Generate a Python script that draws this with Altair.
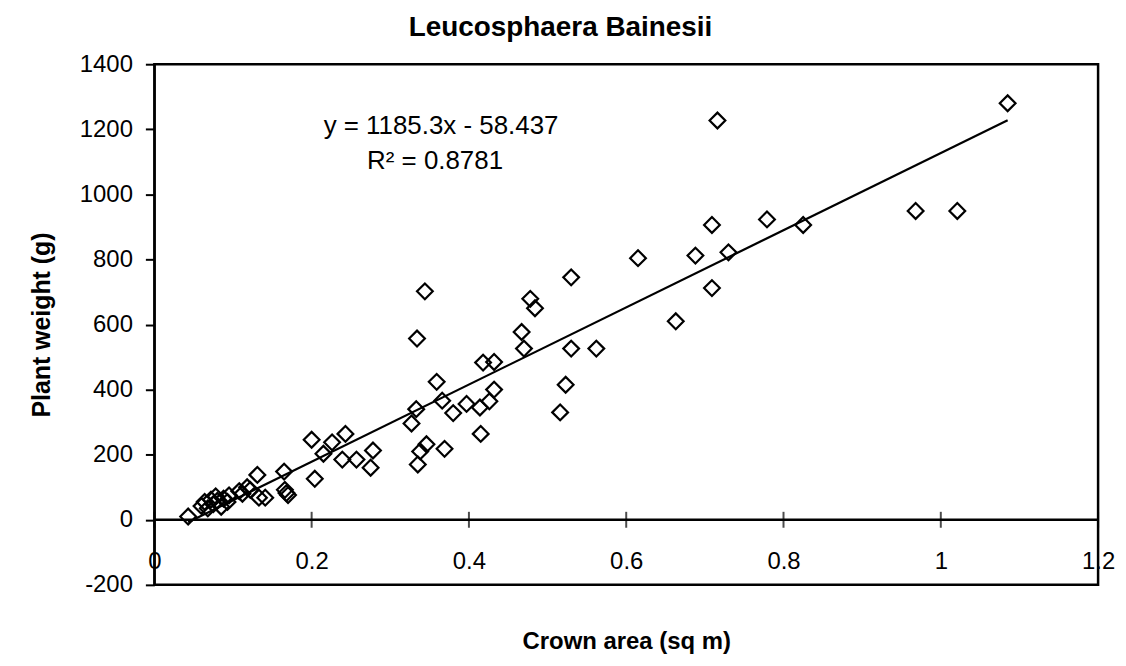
import altair as alt
import pandas as pd

# ---- data ----
crown_area = [
    0.043, 0.060, 0.064, 0.068, 0.072, 0.075, 0.078, 0.080, 0.085, 0.088,
    0.093, 0.095, 0.108, 0.112, 0.118, 0.122, 0.131, 0.133, 0.141, 0.165,
    0.166, 0.168, 0.170,
    0.200, 0.204, 0.215, 0.226, 0.239, 0.243, 0.257, 0.275, 0.278,
    0.327, 0.333, 0.335, 0.338, 0.346, 0.369,
    0.334, 0.344, 0.359, 0.366, 0.380, 0.397,
    0.414, 0.426, 0.432, 0.415, 0.418, 0.432,
    0.467, 0.470, 0.478, 0.484,
    0.530, 0.530, 0.562, 0.523, 0.516,
    0.615, 0.663, 0.688, 0.709, 0.709, 0.716, 0.730, 0.779, 0.825,
    0.968, 1.021, 1.085,
]
plant_weight = [
    10, 42, 55, 35, 62, 48, 72, 58, 40, 65,
    55, 75, 88, 80, 100, 92, 138, 68, 68, 148,
    92, 82, 76,
    246, 126, 203, 238, 185, 264, 185, 160, 213,
    296, 340, 170, 210, 232, 218,
    557, 702, 424, 366, 328, 356,
    345, 364, 400, 264, 483, 485,
    577, 526, 679, 650,
    745, 526, 526, 415, 330,
    804, 610, 812, 906, 712, 1227, 822, 923, 906,
    949, 949, 1280,
]
x_ticks = [0, 0.2, 0.4, 0.6, 0.8, 1.0, 1.2]
y_ticks = [-200, 0, 200, 400, 600, 800, 1000, 1200, 1400]
slope = 1185.3
intercept = -58.437
chart_title = "Leucosphaera Bainesii"
eq_text = "y = 1185.3x - 58.437"
r2_text = "R² = 0.8781"
x_title = "Crown area (sq m)"
y_title = "Plant weight (g)"

# ---- tables ----
pts = pd.DataFrame({"x": crown_area, "y": plant_weight})
xmin, xmax = min(crown_area), max(crown_area)
trend = pd.DataFrame({"x": [xmin, xmax]})
trend["y"] = slope * trend["x"] + intercept
tick_df = pd.DataFrame({"x": x_ticks, "zero": [0] * len(x_ticks)})
zero_df = pd.DataFrame({"v": [0]})
eq_df = pd.DataFrame({"t": [eq_text]})
r2_df = pd.DataFrame({"t": [r2_text]})
title_df = pd.DataFrame({"t": [chart_title]})

W, H = 948, 523
FONT = "Liberation Sans"

xscale = alt.Scale(domain=[0, 1.2], nice=False, zero=False)
yscale = alt.Scale(domain=[-200, 1400], nice=False, zero=False)

xaxis = alt.Axis(
    values=x_ticks, labelExpr="'' + datum.value", title=x_title,
    domain=False, ticks=False, tickSize=0, grid=False,
    labelFont=FONT, labelFontSize=24, labelColor="black",
    labelPadding=-23, labelBaseline="middle",
    labelFlush=False, labelOverlap=False, labelBound=False,
    titleFont=FONT, titleFontSize=24, titleFontWeight="bold",
    titleColor="black", titleX=W / 2, titleY=57, titleBaseline="middle",
    titleAlign="center",
)
yaxis = alt.Axis(
    values=y_ticks, labelExpr="'' + datum.value", title=y_title, grid=False,
    domain=True, domainColor="black", domainWidth=2,
    ticks=True, tickSize=9, tickWidth=2, tickColor="black",
    labelFont=FONT, labelFontSize=24, labelColor="black", labelPadding=13,
    labelOverlap=False, labelFlush=False, labelBound=False,
    titleFont=FONT, titleFontSize=25, titleFontWeight="bold",
    titleColor="black", titleX=-113, titleY=H / 2, titleAngle=270,
    titleBaseline="middle", titleAlign="center",
)

points = alt.Chart(pts).mark_point(
    shape="diamond", filled=False, size=250, strokeWidth=2.2,
    color="black", opacity=1,
).encode(
    x=alt.X("x:Q", scale=xscale, axis=xaxis),
    y=alt.Y("y:Q", scale=yscale, axis=yaxis),
)

line = alt.Chart(trend).mark_line(color="black", strokeWidth=2.2).encode(
    x=alt.X("x:Q", scale=xscale),
    y=alt.Y("y:Q", scale=yscale),
)

zero_rule = alt.Chart(zero_df).mark_rule(color="black", strokeWidth=2.5).encode(
    y=alt.Y("v:Q", scale=yscale),
)

xticks = alt.Chart(tick_df).mark_tick(
    orient="vertical", size=16, thickness=2, color="black"
).encode(
    x=alt.X("x:Q", scale=xscale),
    y=alt.Y("zero:Q", scale=yscale),
)

eq = alt.Chart(eq_df).mark_text(
    font=FONT, fontSize=26, color="black", align="center", baseline="middle"
).encode(x=alt.value(288), y=alt.value(62), text="t:N")

r2 = alt.Chart(r2_df).mark_text(
    font=FONT, fontSize=26, color="black", align="center", baseline="middle"
).encode(x=alt.value(282), y=alt.value(97), text="t:N")

title = alt.Chart(title_df).mark_text(
    font=FONT, fontSize=28, fontWeight="bold", color="black",
    align="center", baseline="middle"
).encode(x=alt.value(408), y=alt.value(-36), text="t:N")

chart = alt.layer(zero_rule, xticks, line, points, eq, r2, title).properties(
    width=W, height=H,
    autosize=alt.AutoSizeParams(type="none"),
    padding={"left": 147, "top": 55, "right": 20, "bottom": 72},
).configure_view(stroke="black", strokeWidth=2.5)

chart.save("out.html", embed_options={"renderer": "svg", "actions": False})
